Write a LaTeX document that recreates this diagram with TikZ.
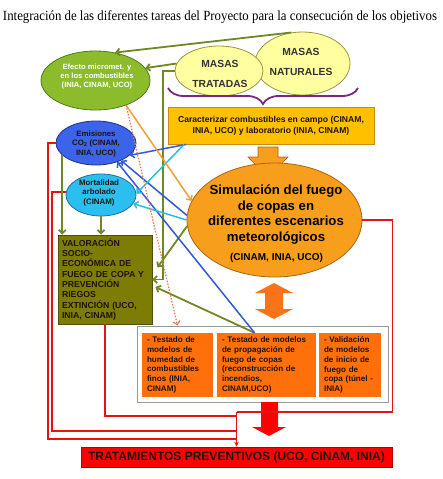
\documentclass[tikz,border=0pt]{standalone}
\usepackage{fontspec}
\setmainfont{Liberation Sans}
\newfontfamily\titlefont{Liberation Serif}
\usetikzlibrary{shapes.geometric,arrows.meta,calc,decorations.pathreplacing}
\newcommand\myfs[2]{\fontsize{#1}{#2}\selectfont\bfseries}
\definecolor{efgreen}{RGB}{140,188,44}
\definecolor{efgreenD}{RGB}{80,120,30}
\definecolor{masas}{RGB}{255,255,160}
\definecolor{masasD}{RGB}{150,150,70}
\definecolor{purp}{RGB}{120,40,130}
\definecolor{carfill}{RGB}{255,192,0}
\definecolor{carD}{RGB}{200,140,20}
\definecolor{simfill}{RGB}{247,158,28}
\definecolor{simD}{RGB}{170,100,20}
\definecolor{emisfill}{RGB}{60,100,235}
\definecolor{emisD}{RGB}{30,50,140}
\definecolor{mortfill}{RGB}{45,190,240}
\definecolor{mortD}{RGB}{30,110,170}
\definecolor{valfill}{RGB}{125,125,5}
\definecolor{valD}{RGB}{80,80,10}
\definecolor{testfill}{RGB}{255,112,10}
\definecolor{dblfill}{RGB}{250,115,25}
\definecolor{oliveln}{RGB}{112,136,36}
\definecolor{blueln}{RGB}{50,90,215}
\definecolor{cyanln}{RGB}{40,190,230}
\definecolor{orangeln}{RGB}{240,160,50}
\definecolor{dotln}{RGB}{235,120,80}
\definecolor{redln}{RGB}{228,20,20}
\definecolor{darktext}{RGB}{30,20,10}
\begin{document}
\begin{tikzpicture}[x=1pt,y=-1pt,
  ell/.style={ellipse,inner sep=0pt,line width=0.8pt},
  txt/.style={align=center,inner sep=0pt,text=darktext},
  barbtip/.style={-{Straight Barb[length=3.5pt,width=7pt]}},
  olvline/.style={draw=oliveln,line width=1.8pt,barbtip},
  bluline/.style={draw=blueln,line width=1.5pt,barbtip},
  cyaline/.style={draw=cyanln,line width=1.5pt,barbtip},
  orgline/.style={draw=orangeln,line width=1.5pt,barbtip},
  dotline/.style={draw=dotln,line width=1.2pt,dash pattern=on 1.5pt off 1.5pt,barbtip},
  redline/.style={draw=redln,line width=1.2pt},
  tbox/.style={fill=testfill,inner xsep=5pt,inner ysep=0pt,minimum height=64pt,align=left,font=\myfs{8.1}{9.8},text=darktext}
]
\useasboundingbox (0,0) rectangle (443,479);
\fill[white] (0,0) rectangle (443,479);

% title
\node[font=\titlefont\fontsize{14}{16}\selectfont,anchor=base,inner sep=0pt] (title) at (220,20)
  {\resizebox{434pt}{\height}{Integración de las diferentes tareas del Proyecto para la consecución de los objetivos}};

% masas
\node[ell,fill=masas,draw=masasD,minimum width=95pt,minimum height=63pt] (nat) at (302.5,63.5) {};
\node[ell,fill=masas,draw=masasD,minimum width=88pt,minimum height=50pt] (trat) at (219,71) {};
\node[txt,text=black!80,font=\myfs{10.3}{20}] (nattxt) at (301,61.5) {MASAS\\NATURALES};
\node[txt,text=black!80,font=\myfs{10.3}{20}] (trattxt) at (220,73.5) {MASAS\\TRATADAS};

% efecto
\node[ell,fill=efgreen,draw=efgreenD,minimum width=109pt,minimum height=59pt] (efecto) at (95.5,80.5) {};
\node[txt,text=white,font=\myfs{7.6}{9}] (eftxt) at (97,76.5) {Efecto micromet. y\\en los combustibles\\(INIA, CINAM, UCO)};

% brace
\draw[purp,line width=1.8pt,decorate,decoration={brace,mirror,amplitude=16pt}] (168,88) -- (358,88);

% caracterizar
\node[draw=carD,fill=carfill,line width=0.8pt,minimum width=206pt,minimum height=37pt,inner sep=0pt,
  align=center,font=\myfs{8.6}{11},text=darktext] (car) at (271,125.5)
  {Caracterizar combustibles en campo (CINAM,\\INIA, UCO) y laboratorio (INIA, CINAM)};

% block arrow under caracterizar
\filldraw[fill=simfill,draw=simD,line width=0.6pt] (258,147) -- (278,147) -- (278,157) -- (288,157)
  -- (268,178) -- (248,157) -- (258,157) -- cycle;

% simulacion
\node[ell,fill=simfill,draw=simD,minimum width=175pt,minimum height=114pt] (sim) at (274.5,220) {};
\node[txt,text=black,font=\myfs{13.2}{15.6}] (simtxt) at (276,214.4)
  {Simulación del fuego\\de copas en\\diferentes escenarios\\meteorológicos};
\node[txt,text=black,font=\myfs{10}{12}] (simcred) at (276.5,258) {(CINAM, INIA, UCO)};

% emisiones & mortalidad
\node[ell,fill=emisfill,draw=emisD,minimum width=80pt,minimum height=44pt] (emis) at (96,143) {};
\node[txt,font=\myfs{7.8}{9.5}] (emistxt) at (96,143.5) {Emisiones\\CO\textsubscript{2} (CINAM,\\INIA, UCO)};
\node[ell,fill=mortfill,draw=mortD,minimum width=70pt,minimum height=42pt] (mort) at (101,195) {};
\node[txt,font=\myfs{7.9}{9.5}] (morttxt) at (99,192.5) {Mortalidad\\arbolado\\(CINAM)};

% valoracion
\node[draw=valD,fill=valfill,line width=0.8pt,minimum width=94pt,minimum height=89pt,text width=86pt,
  inner xsep=4pt,inner ysep=0pt,align=left,font=\myfs{8.7}{10.35},text=darktext] (val) at (105,279.5)
  {VALORACIÓN\\SOCIO-\\ECONÓMICA DE\\FUEGO DE COPA Y\\PREVENCIÓN\\RIEGOS\\EXTINCIÓN (UCO,\\INIA, CINAM)};

% double arrow
\fill[dblfill] (274,283) -- (293,293) -- (283,293) -- (283,309) -- (293,309) -- (274,319)
  -- (255,309) -- (265,309) -- (265,293) -- (255,293) -- cycle;

% tests
\node[draw=black!40,fill=white,line width=1pt,minimum width=251pt,minimum height=76pt,inner sep=0pt] (tests) at (262.5,364) {};
\node[tbox,text width=61pt] (box1) at (177.5,365) {- Testado de\\modelos de\\humedad de\\combustibles\\finos (INIA,\\CINAM)};
\node[tbox,text width=89pt] (box2) at (266.5,365) {- Testado de modelos\\de propagación de\\fuego de copas\\(reconstrucción de\\incendios,\\CINAM,UCO)};
\node[tbox,text width=52pt] (box3) at (350,365) {- Validación\\de modelos\\de inicio de\\fuego de\\copa (túnel -\\INIA)};

% red block arrow
\fill[red] (261,402) -- (278,402) -- (278,427) -- (286,427) -- (269,436) -- (252,427) -- (261,427) -- cycle;

% tratamientos
\node[fill=red,draw=red!70!black,line width=0.6pt,minimum width=311pt,minimum height=20pt,inner sep=0pt,
  font=\myfs{12}{14},text=darktext] (prev) at (236.5,457) {TRATAMIENTOS PREVENTIVOS (UCO, CINAM, INIA)};

\coordinate (b2pt) at ($(box2.north west)!0.38!(box2.north east)$);
\coordinate (rj) at (236.5,412);

% red lines
\draw[redline] (emis.west) -| (48,439) -- (236.5,439);
\draw[redline] (mort.175) -| (52,431) -- (236.5,431);
\draw[redline] (val.south) |- (236.5,416);
\draw[redline] (sim.east) -- ++(30,0) |- (rj);
\draw[redline,-{Stealth[length=5pt,width=4.5pt]}] (rj) -- (prev.north);

% olive
\draw[olvline] (nat.110) -- (efecto.55);
\draw[olvline] (trat.170) -- (efecto.14);
\draw[olvline] (trat.west) -- ++(-12,0) |- (val.east);
\draw[olvline] (sim.184) -- ($(val.east)+(5,-12)$);
\draw[olvline] (b2pt) -- ($(val.east)+(3,7.5)$);
\draw[olvline] (emis.200) -- (emis.200 |- val.north);
\draw[olvline] (mort.south) -- (mort.south |- val.north);

% blue
\draw[bluline] ($(car.south west)!0.09!(car.south east)$) -- (emis.-20);
\draw[bluline] (sim.177) -- (emis.-35);
\draw[bluline] (b2pt) -- (emis.-42);

% cyan
\draw[cyaline] ($(car.south west)!0.08!(car.south east)$) -- (mort.2);
\draw[cyaline] (sim.180) -- (mort.-15);

% orange
\draw[orgline] (efecto.-39) -- (sim.167);
\draw[dotline] (efecto.-39) -- (box1.north |- tests.north);
\end{tikzpicture}
\end{document}
